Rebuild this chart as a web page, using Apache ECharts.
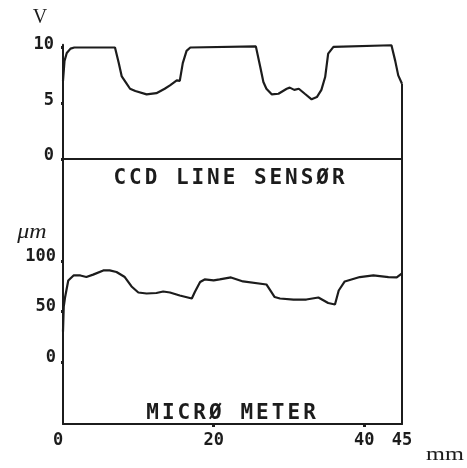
<!DOCTYPE html>
<html>
<head>
<meta charset="utf-8">
<script src="https://cdn.jsdelivr.net/npm/echarts@6/dist/echarts.min.js"></script>
<style>
html,body{margin:0;padding:0;background:#fff;}
#chart{width:467px;height:468px;}
</style>
</head>
<body>
<div id="chart"></div>
<script>
// ---- Data ----
var ccdPos = [0, 0.2, 0.5, 1.0, 1.5, 6.9, 7.4, 7.8, 8.0, 8.4, 8.9, 9.6, 11.1, 12.4, 13.5, 14.2, 15.1, 15.5, 15.9, 16.4, 16.9, 25.6, 26.2, 26.6, 27.0, 27.7, 28.6, 29.7, 30.1, 30.7, 31.3, 32.1, 33.0, 33.7, 34.3, 34.8, 35.2, 35.9, 43.6, 44.1, 44.5, 45];
var ccdVolt = [7.0, 8.8, 9.5, 9.9, 10.0, 10.0, 8.6, 7.4, 7.2, 6.8, 6.3, 6.1, 5.8, 5.9, 6.3, 6.6, 7.05, 7.0, 8.6, 9.7, 10.0, 10.1, 8.2, 6.9, 6.3, 5.8, 5.85, 6.3, 6.4, 6.2, 6.3, 5.85, 5.35, 5.55, 6.2, 7.35, 9.45, 10.05, 10.2, 8.8, 7.5, 6.75];
var microPos = [0, 0.1, 0.27, 0.7, 1.4, 2.3, 3.1, 4.0, 5.35, 6.2, 7.1, 8.2, 9.1, 10.0, 11.1, 12.4, 13.3, 14.2, 15.5, 17.1, 17.5, 18.2, 18.8, 20.0, 20.8, 22.3, 23.9, 27.0, 28.1, 28.8, 30.6, 32.3, 33.9, 35.2, 36.1, 36.6, 37.4, 39.4, 41.2, 43.2, 44.3, 45];
var microUm = [30, 55, 64, 81, 86, 86, 84.4, 86.8, 91, 91, 89.4, 84.4, 75, 69, 68, 68.5, 70, 69, 66, 63, 69.5, 79.4, 82, 81, 82, 84, 80, 77, 64.5, 63, 62, 62, 64, 58.5, 57, 71, 80, 84.4, 86, 84.4, 84, 88];
var xTicks = [0, 20, 40, 45];
var ccdTicks = [0, 5, 10];
var microTicks = [0, 50, 100];
var ccdTitle = 'CCD LINE SENSØR';
var microTitle = 'MICRØ METER';

function pairs(xs, ys) { return xs.map(function (x, i) { return [x, ys[i]]; }); }
function spaced(s) { return s.split('').map(function (c) { return '{c|' + c + '}'; }).join(''); }

var INK = '#1c1c1c';
var labelFont = { fontFamily: 'DejaVu Sans Mono', fontWeight: 'bold', fontSize: 17, color: INK };

var chart = echarts.init(document.getElementById('chart'), null, { renderer: 'canvas' });
chart.setOption({
  animation: false,
  backgroundColor: '#fff',
  grid: [
    { left: 63, width: 339, top: 44.7, height: 114.3 },
    { left: 63, width: 339, top: 159, height: 265 }
  ],
  xAxis: [
    { gridIndex: 0, type: 'value', min: 0, max: 45,
      axisLine: { show: true, lineStyle: { color: INK, width: 2 } },
      axisTick: { show: false }, axisLabel: { show: false }, splitLine: { show: false } },
    { gridIndex: 1, type: 'value', min: 0, max: 45,
      axisLine: { show: true, onZero: false, lineStyle: { color: INK, width: 2 } },
      axisTick: { show: true, customValues: [20, 40], length: 3, lineStyle: { color: INK, width: 3 } },
      axisLabel: Object.assign({ customValues: xTicks, margin: 8,
        formatter: function (v) { return v === 0 ? '{z|0}' : String(v); },
        rich: { z: Object.assign({ padding: [0, 10, 0, 0] }, labelFont) } }, labelFont),
      splitLine: { show: false } }
  ],
  yAxis: [
    { gridIndex: 0, type: 'value', min: 0, max: 10.25,
      axisLine: { show: true, lineStyle: { color: INK, width: 2 } },
      axisTick: { show: true, customValues: ccdTicks, length: 2, lineStyle: { color: INK, width: 3 } },
      axisLabel: Object.assign({ customValues: ccdTicks, margin: 9,
        formatter: function (v) { return '{u|' + v + '}'; },
        rich: { u: Object.assign({ padding: [0, 0, 6, 0] }, labelFont) } }, labelFont),
      splitLine: { show: false } },
    { gridIndex: 1, type: 'value', min: -62, max: 202,
      axisLine: { show: true, lineStyle: { color: INK, width: 2 } },
      axisTick: { show: true, customValues: microTicks, length: 2, lineStyle: { color: INK, width: 3 } },
      axisLabel: Object.assign({ customValues: microTicks, margin: 7,
        formatter: function (v) { return '{u|' + v + '}'; },
        rich: { u: Object.assign({ padding: [0, 0, 9, 0] }, labelFont) } }, labelFont),
      splitLine: { show: false } },
    { gridIndex: 1, type: 'value', min: -62, max: 202, position: 'right',
      axisLine: { show: true, onZero: false, lineStyle: { color: INK, width: 2 } },
      axisTick: { show: false }, axisLabel: { show: false }, splitLine: { show: false } }
  ],
  series: [
    { type: 'line', xAxisIndex: 0, yAxisIndex: 0, data: pairs(ccdPos, ccdVolt),
      showSymbol: false, lineStyle: { color: INK, width: 2.2 },
      markLine: { silent: true, symbol: 'none', label: { show: false },
        lineStyle: { color: INK, width: 2, type: 'solid' },
        data: [[{ coord: [ccdPos[ccdPos.length - 1], ccdVolt[ccdVolt.length - 1]] }, { coord: [ccdPos[ccdPos.length - 1], 0] }]] } },
    { type: 'line', xAxisIndex: 1, yAxisIndex: 1, data: pairs(microPos, microUm),
      showSymbol: false, lineStyle: { color: INK, width: 2.2 } }
  ],
  graphic: [
    { type: 'text', x: 229, y: 178.5, style: { text: spaced(ccdTitle), align: 'center', verticalAlign: 'middle',
        rich: { c: { width: 15.6, align: 'center', fontFamily: 'DejaVu Sans Mono', fontWeight: 'bold', fontSize: 21, fill: INK } } } },
    { type: 'text', x: 231, y: 413.5, style: { text: spaced(microTitle), align: 'center', verticalAlign: 'middle',
        rich: { c: { width: 15.7, align: 'center', fontFamily: 'DejaVu Sans Mono', fontWeight: 'bold', fontSize: 21, fill: INK } } } },
    { type: 'text', x: 40, y: 18, style: { text: 'V', align: 'center', verticalAlign: 'middle',
        font: '20px "Liberation Serif"', fill: INK } },
    { type: 'text', x: 32, y: 233, scaleX: 1.2, style: { text: 'μm', align: 'center', verticalAlign: 'middle',
        font: 'italic 20px "Liberation Serif"', fill: INK } },
    { type: 'text', x: 445, y: 455, scaleX: 1.35, style: { text: 'mm', align: 'center', verticalAlign: 'middle',
        font: '18px "Liberation Serif"', fill: INK } }
  ]
});
</script>
</body>
</html>
